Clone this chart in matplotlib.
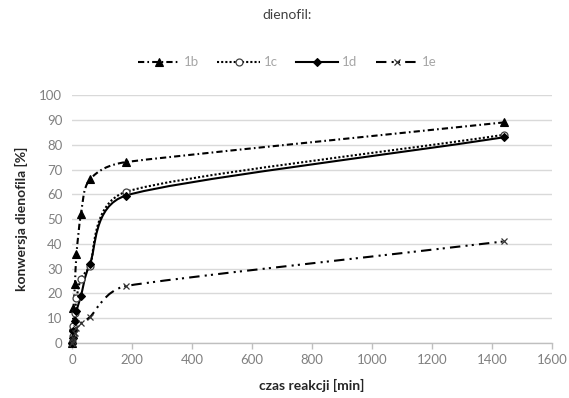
import numpy as np
import matplotlib
matplotlib.use("Agg")
import matplotlib.pyplot as plt
from matplotlib.path import Path
from matplotlib.patches import PathPatch
from matplotlib.lines import Line2D

plt.rcParams["font.family"] = ["Lato", "DejaVu Sans"]

# ==========================================================
#  dane
# ==========================================================
czas = [0, 2, 5, 10, 15, 30, 60, 180, 1440]
konw_1b = [0, 7, 14, 24, 36, 52, 66, 73, 89]
konw_1c = [0, 3, 7, 12, 18, 26, 31, 61, 84]
konw_1d = [0, 2, 5, 9, 13, 19, 32, 59.5, 83]
konw_1e = [0, 1, 2, 4, 6, 8, 10.5, 23, 41]

serie = ["1b", "1c", "1d", "1e"]
x_ticks = [0, 200, 400, 600, 800, 1000, 1200, 1400, 1600]
y_ticks = [0, 10, 20, 30, 40, 50, 60, 70, 80, 90, 100]

TICK_COLOR = "#808080"
GRID_COLOR = "#d9d9d9"
LABEL_COLOR = "#262626"


def smooth_path(ax, x, y, k=0.3):
    """wygładzona linia (jak w Excelu) - krzywe Beziera przez punkty"""
    bb = ax.get_window_extent()
    x0, x1 = ax.get_xlim()
    y0, y1 = ax.get_ylim()
    sx = bb.width / (x1 - x0)
    sy = bb.height / (y1 - y0)
    p = np.column_stack([np.asarray(x, float) * sx, np.asarray(y, float) * sy])
    n = len(p)
    seg = [np.hypot(*(p[i + 1] - p[i])) for i in range(n - 1)]
    tang = []
    for i in range(n):
        d = p[min(i + 1, n - 1)] - p[max(i - 1, 0)]
        nd = np.hypot(*d)
        tang.append(d / nd if nd > 1e-9 else np.zeros(2))
    # dlugosc uchwytu: srednia geometryczna sasiednich odcinkow
    hlen = []
    for i in range(n):
        s = [seg[j] for j in (i - 1, i) if 0 <= j < n - 1]
        hlen.append(k * np.sqrt(np.prod(s)) ** (2.0 / len(s)) if len(s) == 2 else k * s[0])
    verts = [p[0]]
    codes = [Path.MOVETO]
    for i in range(n - 1):
        c1 = p[i] + tang[i] * min(hlen[i], 0.45 * seg[i])
        c2 = p[i + 1] - tang[i + 1] * min(hlen[i + 1], 0.45 * seg[i])
        verts += [c1, c2, p[i + 1]]
        codes += [Path.CURVE4] * 3
    verts = np.array(verts)
    verts[:, 0] /= sx
    verts[:, 1] /= sy
    return Path(verts, codes)


fig = plt.figure(figsize=(5.69, 3.98), dpi=100)
ax = fig.add_axes([0.1265, 0.138, 0.8435, 0.623])
ax.set_xlim(0, 1600)
ax.set_ylim(0, 100)

style = {
    "1b": dict(ls=(0, (3, 1.5, 0.8, 1.5)), marker="^", ms=5.5, mfc="black", mec="black", mew=0.8),
    "1c": dict(ls=(0, (1, 1)), marker="o", ms=5, mfc="white", mec="#404040", mew=0.9),
    "1d": dict(ls="-", marker="D", ms=4, mfc="black", mec="black", mew=0.8),
    "1e": dict(ls=(0, (5, 2.5, 1, 2, 1, 2.5)), marker="x", ms=5, mfc="none", mec="#333333", mew=0.9),
}
dane = {"1b": konw_1b, "1c": konw_1c, "1d": konw_1d, "1e": konw_1e}

uchwyty = []
for s in serie:
    st = style[s]
    path = smooth_path(ax, czas, dane[s])
    patch = PathPatch(path, fill=False, edgecolor="black", lw=1.5,
                      linestyle=st["ls"], capstyle="butt", zorder=3)
    ax.add_patch(patch)
    ax.plot(czas, dane[s], ls="none", marker=st["marker"], ms=st["ms"],
            mfc=st["mfc"], mec=st["mec"], mew=st["mew"], zorder=4, clip_on=False)
    uchwyty.append(Line2D([], [], color="black", lw=1.5, ls=st["ls"],
                          marker=st["marker"], ms=st["ms"], mfc=st["mfc"],
                          mec=st["mec"], mew=st["mew"], dash_capstyle="butt"))

# osie
ax.set_xticks(x_ticks)
ax.set_yticks(y_ticks)
ax.grid(axis="y", color=GRID_COLOR, lw=1)
ax.set_axisbelow(True)
for sp in ["top", "right", "left"]:
    ax.spines[sp].set_visible(False)
ax.spines["bottom"].set_color("#bfbfbf")
ax.spines["bottom"].set_linewidth(1)
ax.tick_params(axis="x", colors="#bfbfbf", length=4, width=1, labelcolor=TICK_COLOR,
               labelsize=9.5, pad=4)
ax.tick_params(axis="y", length=0, labelcolor=TICK_COLOR, labelsize=9.5, pad=7)

ax.set_xlabel("czas reakcji [min]", fontsize=10, fontweight="bold", color=LABEL_COLOR, labelpad=9)
ax.set_ylabel("konwersja dienofila [%]", fontsize=10, fontweight="bold", color=LABEL_COLOR, labelpad=8)

# legenda
fig.text(0.505, 0.962, "dienofil:", ha="center", va="center", fontsize=10, color="#404040")
leg = fig.legend(uchwyty, serie, loc="center", bbox_to_anchor=(0.505, 0.843), ncol=4,
                 frameon=False, fontsize=9.5, handlelength=3.2, columnspacing=1.4,
                 handletextpad=0.3)
for t in leg.get_texts():
    t.set_color("#a6a6a6")

fig.savefig("out.png", dpi=100)
